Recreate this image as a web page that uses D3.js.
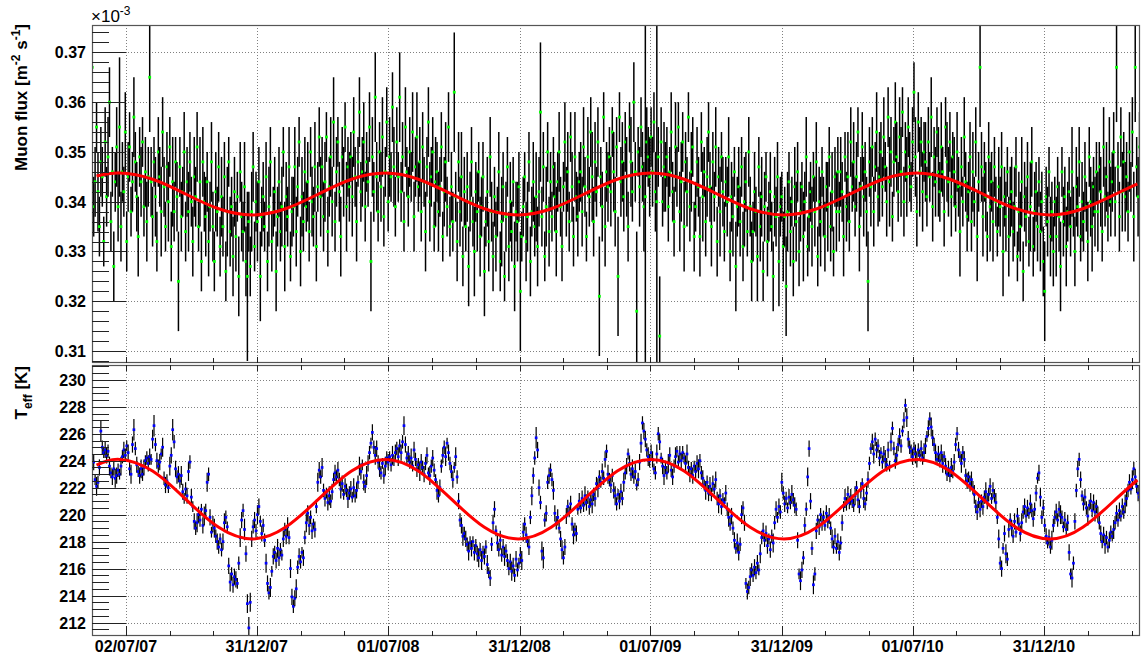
<!DOCTYPE html>
<html><head><meta charset="utf-8">
<script src="https://cdn.jsdelivr.net/npm/d3@7"></script>
<style>body{margin:0;background:#fff}text{font-family:"Liberation Sans",Arial,Helvetica,sans-serif}</style>
</head><body><svg id="c" width="1144" height="660"></svg>
<script>
// ---------- data ----------
const startDay = "2007-05-16";
const dayStep = 2;
// muon flux, units 1e-6 m^-2 s^-1 (axis shows x10^-3)
const muonFlux = [
367,339,344,355,342,335,348,345,332,352, 341,349,360,336,346,327,344,351,339,355,
335,346,342,354,332,345,351,338,344,357, 348,341,333,349,344,352,339,346,336,345,
365,344,337,348,341,332,350,345,338,354, 343,335,347,340,351,331,344,338,348,341,
324,347,337,342,350,334,344,338,348,340, 332,345,341,351,335,344,328,348,340,337,
344,332,339,348,335,328,342,338,347,331, 341,335,345,326,338,348,334,339,329,342,
333,341,325,346,337,334,343,328,325,336, 327,338,347,331,340,336,344,325,337,341,
335,345,328,339,348,332,338,342,326,337, 344,334,339,350,331,341,337,347,329,338,
339,347,334,343,352,330,341,336,346,339, 344,334,350,340,337,347,331,343,353,341,
347,337,344,353,334,343,349,340,356,336, 346,352,342,333,349,344,355,339,347,343,
349,341,354,345,336,348,358,342,346,352, 339,348,344,355,328,349,342,361,345,338,
350,343,353,337,346,356,340,349,345,359, 347,339,352,345,361,342,349,336,355,346,
341,350,345,354,337,347,353,343,348,338, 351,344,334,347,356,340,345,350,335,344,
346,338,343,351,333,342,348,339,355,335, 343,336,362,341,332,348,338,345,329,342,
335,343,327,340,348,336,330,342,338,346, 333,339,345,326,336,342,332,349,338,329,
341,333,338,346,328,336,343,325,337,347, 331,340,334,344,327,338,336,343,322,333,
339,345,332,337,348,328,338,344,335,341, 331,342,358,337,347,329,339,350,334,344,
337,347,341,334,344,350,339,331,343,352, 340,346,336,353,343,333,349,341,337,344,
346,338,351,343,333,349,341,354,345,336, 348,342,352,321,345,339,357,335,346,343,
349,342,354,346,338,351,325,357,344,348, 341,352,345,335,355,348,342,360,346,318,
350,343,355,347,339,341,352,349,345,353, 346,356,342,340,349,313,352,340,347,345,
349,339,346,354,342,336,351,345,355,338, 344,352,335,348,342,357,339,346,351,333,
339,348,343,333,352,341,346,336,345,354, 343,335,348,341,351,332,345,338,349,342,
334,344,340,349,330,341,337,346,327,339, 343,336,347,331,340,344,334,350,339,328,
334,342,338,329,347,335,341,326,339,345, 332,338,342,335,325,341,337,345,328,339,
341,331,337,323,338,344,334,340,328,343, 336,346,330,338,343,333,340,349,331,337,
342,335,345,338,348,329,340,336,346,339, 333,343,339,349,335,342,330,345,338,346,
338,346,342,333,349,339,345,336,352,343, 348,339,345,354,335,343,351,341,346,338,
324,348,343,351,338,347,354,341,345,350, 343,353,347,340,357,344,350,337,348,356,
349,342,353,346,358,340,350,345,355,347, 343,352,362,349,338,356,346,352,342,350,
348,341,352,345,357,339,349,344,354,346, 342,351,346,338,355,348,344,352,341,349,
346,339,350,343,334,347,340,353,344,337, 342,349,336,346,340,352,333,344,367,347,
337,346,341,333,349,339,344,336,347,340, 334,343,339,347,330,341,337,346,333,340,
342,334,339,347,329,338,335,344,326,341, 337,345,332,339,348,331,338,342,335,344,
334,340,328,322,341,336,346,333,338,330, 340,333,343,337,327,346,336,341,331,338,
342,335,346,338,330,343,339,348,333,340, 336,345,339,332,349,340,335,343,338,346,
338,347,342,334,351,341,345,337,348,340, 344,350,340,367,347,337,353,342,348,341,
345,338,350,343,354,337,367,347,341,351];
const muonErr = [
9,6,7,5,8,6,7,6,5,7, 6,8,7,6,5,7,6,8,7,14, 7,6,5,8,6,7,7,5,6,8, 6,7,8,6,7,5,6,7,8,6,
11,7,6,5,8,6,7,6,9,7, 6,5,7,8,6,7,9,6,5,7, 10,6,7,5,8,6,7,8,6,5, 7,8,6,7,5,9,6,7,6,8,
6,7,5,8,7,6,8,5,7,6, 8,6,7,6,9,5,7,6,8,7, 7,5,8,6,7,6,9,7,17,6, 6,8,7,5,6,8,7,9,6,7,
5,7,6,8,7,6,5,7,8,6, 7,6,8,5,9,7,6,8,5,7, 6,8,7,6,5,7,8,6,7,5, 8,6,5,7,6,9,7,5,6,8,
6,7,8,5,7,6,8,7,9,6, 7,5,6,8,6,7,5,9,6,7, 5,8,7,6,8,5,7,6,7,8, 7,6,5,7,10,8,6,9,7,6,
6,7,8,6,5,7,6,8,5,7, 8,6,7,5,9,6,7,6,8,5, 6,7,5,8,7,6,9,5,7,6, 7,5,8,6,7,8,6,7,5,9,
6,8,6,7,5,7,8,6,7,6, 7,6,12,5,8,6,7,9,6,7, 5,7,8,6,7,5,9,6,8,6, 8,6,7,9,5,7,6,8,6,7,
6,7,5,8,6,9,7,5,7,6, 7,8,6,5,9,6,8,7,12,5, 6,5,8,7,6,7,5,8,6,9, 8,7,14,6,7,5,8,6,7,6,
5,6,7,9,6,8,6,7,5,8, 7,8,6,5,7,6,9,5,8,6, 6,7,8,6,5,8,6,7,9,7, 8,5,7,12,6,7,5,8,6,7,
6,7,5,8,7,6,12,5,7,8, 7,6,8,7,5,9,6,8,6,16, 5,8,6,7,9,36,7,6,8,6, 7,6,8,36,6,12,7,5,9,7,
6,7,5,8,6,7,9,6,5,8, 8,6,9,6,7,5,7,8,6,7, 5,7,6,8,6,9,5,7,8,6, 7,8,6,5,8,7,6,9,5,7,
6,5,7,8,6,7,8,5,9,6, 8,7,6,7,9,6,5,7,6,8, 6,8,5,9,6,7,8,6,7,5, 7,6,8,5,7,8,6,7,9,6,
5,7,6,10,8,6,7,5,7,8, 8,6,7,6,5,9,6,8,6,7, 6,8,5,7,8,6,7,9,5,6, 7,5,9,6,7,8,5,6,8,7,
6,7,6,8,5,7,9,6,7,5, 8,6,7,5,9,6,7,8,6,7, 10,7,8,6,7,5,8,6,9,6, 6,8,5,7,6,9,7,5,7,8,
7,6,8,9,5,7,6,8,6,7, 5,7,6,8,7,6,9,5,8,6, 8,6,7,5,8,7,6,7,5,9, 6,9,5,7,6,8,7,6,8,5,
7,5,8,6,9,6,5,8,6,7, 6,7,6,8,5,7,9,6,12,7, 8,6,7,5,7,9,6,8,6,5, 5,8,6,7,9,6,7,5,8,7,
7,6,8,6,5,8,7,9,6,7, 6,7,5,9,7,6,8,6,7,5, 8,6,7,10,6,7,5,8,6,7, 5,8,6,7,9,5,7,6,8,6,
7,6,9,5,7,8,6,7,5,8, 6,7,5,8,6,7,9,6,7,6, 8,5,7,6,8,6,7,5,9,7, 6,8,7,11,5,7,6,8,6,7,
7,6,8,5,7,9,11,6,8,7];
// effective temperature, K
const teff = [
224.2,223.9,222.6,222.1,222.4,223.5,226.2,225.0,224.6,224.8, 224.4,224.7,223.6,223.1,222.8,223.4,222.7,222.9,223.3,223.0,
223.6,224.3,224.8,224.4,225.1,224.6,223.4,223.0,225.2,226.3, 224.9,223.7,223.2,222.9,223.4,223.0,223.5,224.0,224.2,223.8,
224.3,224.1,225.6,226.6,225.2,224.0,223.6,223.9,224.5,225.0, 222.7,222.2,222.5,222.0,223.6,224.4,226.3,225.4,223.4,222.8,
223.0,222.5,222.9,221.7,221.2,221.9,221.4,223.2,223.9,221.3, 220.6,219.5,219.0,219.4,220.0,219.6,220.4,219.2,219.9,220.3,
222.4,223.0,219.8,218.7,219.3,219.0,218.4,218.0,217.6,218.2, 217.4,218.0,219.4,219.8,219.1,216.2,215.0,215.6,214.8,215.4,
215.2,214.9,216.4,218.3,219.6,220.3,218.9,217.1,213.4,211.6, 213.5,218.2,219.1,219.6,218.8,220.0,220.6,219.5,218.6,219.2,
218.1,216.4,214.9,214.2,214.6,215.8,216.9,217.2,216.6,217.5, 216.8,217.4,217.0,218.2,218.9,218.4,219.1,218.3,216.0,213.9,
213.2,213.8,214.5,216.1,216.9,216.5,217.2,216.8,218.3,219.4, 220.1,219.2,219.8,218.8,219.3,218.9,220.6,222.4,223.3,222.8,
223.5,221.8,221.2,221.6,220.9,221.4,221.0,221.7,222.6,223.1, 222.8,223.3,222.6,221.9,222.3,221.5,222.1,221.8,221.2,221.6,
221.9,221.3,222.0,221.4,221.8,222.4,223.6,223.2,223.7,222.4, 222.1,222.9,223.8,224.6,225.3,226.1,225.0,224.4,224.9,223.9,
223.4,223.1,223.8,222.9,223.6,224.2,223.9,224.3,223.7,224.4, 224.0,224.6,224.9,224.3,225.1,224.6,225.4,226.6,225.2,224.2,
224.5,223.9,224.2,223.6,224.8,224.1,223.4,223.7,223.2,223.9, 223.5,223.0,223.8,224.4,223.1,222.9,223.6,224.2,223.3,222.6,
221.8,221.4,222.0,223.6,224.4,225.0,224.3,225.3,224.6,223.8, 223.2,222.6,223.5,224.3,222.8,221.0,219.6,219.2,218.4,218.6,
218.2,217.8,217.3,217.9,217.5,218.0,217.2,217.7,217.1,216.8, 217.4,216.6,217.2,216.9,217.6,216.3,215.7,215.3,217.8,219.4,
220.4,218.8,217.9,217.4,218.1,217.0,217.6,216.9,217.3,216.6, 216.0,216.5,215.8,216.2,215.5,216.7,215.9,216.4,217.0,216.6,
218.7,219.3,218.5,218.0,217.6,219.8,221.4,222.9,224.2,225.7, 224.8,222.0,220.9,217.3,216.8,219.6,220.1,222.4,222.9,223.3,
222.6,221.8,220.1,219.4,219.8,219.0,218.2,217.4,216.8,217.6, 219.9,220.6,220.2,220.8,219.3,218.5,218.9,218.6,220.4,221.0,
220.5,221.2,220.7,221.4,220.9,221.3,220.6,221.1,220.8,221.5, 221.2,222.3,222.0,222.8,222.4,223.2,222.7,224.1,224.7,223.0,
222.6,222.2,222.9,221.8,221.4,220.8,221.5,221.0,221.7,221.2, 222.4,223.1,223.6,224.5,223.8,223.0,223.4,222.8,223.2,222.2,
222.6,223.9,225.3,226.8,226.2,225.6,224.8,224.3,224.0,224.6, 224.1,223.4,223.1,224.5,226.0,225.4,224.2,223.6,222.9,223.5,
223.1,223.8,224.4,223.3,222.8,223.6,224.3,224.7,223.9,224.5, 224.0,224.6,224.2,223.8,224.5,223.5,223.0,223.4,222.9,223.6,
223.2,223.8,223.4,224.0,223.1,222.7,222.2,221.8,222.4,221.6, 222.1,221.5,222.3,221.9,222.6,221.2,220.8,221.4,220.6,221.1,
220.9,221.6,220.4,219.8,219.3,219.9,219.0,218.1,217.5,217.9, 217.2,217.8,220.0,220.5,219.4,214.9,214.3,214.6,215.4,215.9,
215.5,216.1,215.7,216.4,215.9,217.1,218.3,218.8,218.1,218.6, 217.7,218.2,217.4,218.4,217.9,219.4,220.4,219.8,220.6,220.2,
222.4,221.6,220.8,221.2,220.5,221.3,220.9,221.5,221.1,220.7, 220.4,218.1,215.6,215.1,215.9,216.8,219.2,220.4,222.8,224.9,
221.0,217.5,214.8,215.6,218.8,219.6,219.1,220.0,219.4,219.8, 219.2,220.1,219.5,219.9,219.0,218.2,217.6,218.4,217.5,218.0,
217.2,217.9,219.4,220.6,221.2,220.8,221.5,220.9,221.3,221.0, 220.7,221.4,222.0,221.1,220.6,221.8,222.3,221.2,220.8,221.6,
222.6,223.8,224.9,225.4,224.5,225.6,224.8,225.1,224.2,224.6, 223.9,224.5,224.1,223.7,224.8,223.6,225.4,226.4,224.9,224.0,
224.4,225.2,225.8,225.1,226.2,227.0,228.1,227.2,225.6,225.0, 224.7,224.3,224.9,224.5,224.1,224.8,224.4,224.9,224.2,224.6,
225.1,225.8,226.4,227.1,226.5,225.7,225.2,224.6,224.1,224.5, 224.0,224.6,223.8,224.3,223.6,223.0,223.4,222.9,223.5,223.2,
223.9,225.2,226.0,224.8,224.3,223.8,224.6,224.1,222.9,222.5, 222.8,222.3,222.6,222.0,221.5,220.6,220.2,220.9,220.4,221.0,
220.6,221.3,221.7,221.0,221.5,222.1,221.2,221.8,221.4,220.9, 219.8,218.2,216.4,216.0,217.5,218.6,217.1,216.7,218.9,219.6,
219.0,218.4,219.5,218.7,219.9,219.3,218.6,219.4,220.2,220.6, 219.9,220.5,220.1,220.8,220.3,219.7,220.4,221.6,222.7,223.1,
221.3,219.8,220.5,219.2,218.4,217.9,218.3,217.6,218.1,219.2, 219.8,220.2,219.6,220.4,220.0,219.8,219.1,219.6,218.9,219.4,
217.2,215.6,215.3,216.4,219.5,221.8,223.4,224.1,222.6,221.4, 220.8,221.3,220.5,219.9,220.7,221.0,220.3,220.9,220.2,220.6,
220.0,219.4,218.6,218.0,218.5,217.8,218.3,217.6,218.1,218.7, 218.4,218.9,219.4,220.1,219.6,220.3,219.9,220.6,220.2,220.8,
221.2,221.8,222.4,221.9,222.6,223.4,222.8,222.1,221.6,221.3];
// T_eff errors, units 0.1 K
const teffErr = [
5,6,4,7,5,6,8,5,4,6, 6,5,7,4,6,5,7,6,5,4, 7,5,6,5,4,6,5,7,6,8, 5,6,4,6,7,5,6,4,5,6,
6,4,7,8,5,6,5,6,4,7, 5,6,5,4,7,6,8,5,6,5, 6,5,7,6,4,5,6,7,5,6, 4,6,5,7,6,5,4,6,7,5,
7,5,6,4,6,7,5,6,5,4, 5,6,7,5,4,6,7,5,6,6, 6,4,5,7,6,5,8,6,7,8, 7,6,5,6,5,7,6,4,6,5,
5,7,6,5,7,4,6,5,6,7, 6,5,4,6,5,6,7,5,7,6, 5,6,7,5,6,5,4,6,5,7, 6,7,5,6,4,6,5,7,6,5,
7,5,6,4,6,7,5,6,5,6, 5,6,5,7,6,4,6,5,7,5, 6,4,7,5,6,5,7,6,4,6, 5,7,6,5,4,6,5,7,6,5,
6,5,4,6,7,5,6,4,5,7, 4,6,5,7,5,6,5,7,6,5, 6,5,7,4,6,5,6,5,7,6, 5,6,5,6,4,7,5,6,5,4,
7,5,6,5,6,5,7,4,6,5, 5,6,4,7,5,6,5,6,7,5, 6,5,7,5,6,4,6,5,6,7, 5,7,5,6,5,7,4,6,5,6,
6,4,6,5,7,5,6,7,5,5, 5,6,7,6,5,6,5,4,6,7, 7,5,6,4,6,5,7,6,5,8, 6,6,5,7,8,5,6,5,6,5,
5,7,6,5,6,4,6,7,5,6, 6,5,4,6,5,7,5,6,4,6, 4,6,5,7,6,5,6,5,7,5, 6,5,7,5,4,6,5,6,5,7,
5,6,5,6,7,5,4,6,6,5, 7,5,6,4,6,5,7,5,6,4, 5,6,7,5,6,6,5,7,5,6, 6,4,5,7,5,6,4,6,7,5,
5,7,6,5,6,5,7,4,5,6, 6,5,4,6,7,5,6,5,6,4, 5,6,7,5,5,6,4,7,5,6, 7,5,6,4,6,5,7,5,6,5,
4,6,5,7,5,6,5,6,4,7, 6,5,7,5,6,4,6,5,7,5, 5,6,5,6,4,7,5,6,5,6, 6,4,6,5,7,5,6,4,6,5,
7,5,6,5,4,6,5,7,5,6, 5,6,4,7,6,5,6,5,7,6, 6,5,7,5,6,4,6,5,6,5, 4,6,5,6,5,7,5,6,4,6,
6,5,6,4,7,5,6,5,6,5, 5,7,5,6,5,6,4,7,5,6, 6,5,4,6,7,5,6,5,6,4, 5,6,7,5,6,4,7,5,5,6,
7,5,6,5,4,6,5,7,6,5, 5,6,5,7,6,5,4,6,5,7, 6,4,6,5,7,6,5,6,4,6, 5,6,7,4,6,5,6,5,7,5,
6,5,5,6,4,7,5,6,5,6, 4,6,6,5,7,5,6,4,6,5, 6,5,7,6,5,6,4,6,5,7, 5,7,5,6,4,6,7,5,6,5,
6,5,6,4,6,5,6,7,5,6, 5,6,4,7,5,6,5,6,4,6, 7,5,6,5,6,4,6,5,7,5, 5,6,5,6,7,5,4,6,5,6,
6,4,7,5,6,5,6,5,6,4, 5,6,5,7,4,6,5,6,7,5, 6,5,6,5,6,7,5,4,6,5, 4,7,5,6,5,6,4,6,5,7,
6,5,6,4,7,5,6,5,6,5];
// sinusoidal fits as drawn (day offset from startDay, value)
const fitDay  = [6,38,84,130,176,223,269,315,361,408,454,500,546,593,639,685,731,778,824,870,916,963,1009,1055,1101,1148,1194,1240,1286,1333,1379,1425,1455];
const fitFlux = [345.15,345.75,344.52,341.55,338.58,337.35,338.58,341.55,344.52,345.75,344.52,341.55,338.58,337.35,338.58,341.55,344.52,345.75,344.52,341.55,338.58,337.35,338.58,341.55,344.52,345.75,344.52,341.55,338.58,337.35,338.58,341.55,343.6];
const fitTeff = [223.68,224.1,223.24,221.15,219.06,218.2,219.06,221.15,223.24,224.1,223.24,221.15,219.06,218.2,219.06,221.15,223.24,224.1,223.24,221.15,219.06,218.2,219.06,221.15,223.24,224.1,223.24,221.15,219.06,218.2,219.06,221.15,222.57];
// axes
const xTickDates  = ["2007-07-02","2007-12-31","2008-07-01","2008-12-31","2009-07-01","2009-12-31","2010-07-01","2010-12-31"];
const xTickLabels = ["02/07/07","31/12/07","01/07/08","31/12/08","01/07/09","31/12/09","01/07/10","31/12/10"];
const fluxTicks = [310,320,330,340,350,360,370];
const fluxTickLabels = ["0.31","0.32","0.33","0.34","0.35","0.36","0.37"];
const teffTicks = [212,214,216,218,220,222,224,226,228,230];

// ---------- layout ----------
const L = 92, R = 1140;
const P1 = {top:25, bot:363}, P2 = {top:365, bot:636};
const svg = d3.select("#c");
const parse = d3.utcParse("%Y-%m-%d");
const t0 = parse(startDay);
const dateAt = d => d3.utcDay.offset(t0, d);
const x = d3.scaleUtc()
  .domain([new Date(Date.UTC(2007,4,15,16)), new Date(Date.UTC(2011,4,13,15,36))])
  .range([L, R]);
const yF = d3.scaleLinear().domain([307.6, 375.5]).range([P1.bot, P1.top]);
const yT = d3.scaleLinear().domain([211.0, 231.1]).range([P2.bot, P2.top]);

const xMajor = xTickDates.map(parse);
const xMinor = [];
for (let i = 0; i < xMajor.length; i++) {
  const a = xMajor[i], b = i+1 < xMajor.length ? xMajor[i+1] : d3.utcDay.offset(a, 183);
  const span = b - a;
  xMinor.push(new Date(+a + span/3), new Date(+a + 2*span/3));
}

const defs = svg.append("defs");
[["c1",P1],["c2",P2]].forEach(([id,p]) => {
  defs.append("clipPath").attr("id", id).append("rect")
    .attr("x", L).attr("y", p.top).attr("width", R-L).attr("height", p.bot-p.top);
});

function grid(p, yScale, yTicks) {
  const g = svg.append("g").attr("stroke", "#808080").attr("stroke-dasharray", "1,2").attr("stroke-width", 1);
  g.selectAll(".h").data(yTicks).join("line")
    .attr("x1", L).attr("x2", R).attr("y1", d => Math.round(yScale(d))+0.5).attr("y2", d => Math.round(yScale(d))+0.5);
  g.selectAll(".v").data(xMajor).join("line")
    .attr("x1", d => Math.round(x(d))+0.5).attr("x2", d => Math.round(x(d))+0.5).attr("y1", p.top).attr("y2", p.bot);
}
grid(P1, yF, fluxTicks);
grid(P2, yT, teffTicks);

// ---------- top panel data ----------
const fluxPts = muonFlux.map((v,i) => ({t: dateAt(i*dayStep), v, e: muonErr[i]}));
const g1 = svg.append("g").attr("clip-path", "url(#c1)");
const pg1 = g1.selectAll("g").data(fluxPts).join("g");
pg1.append("line")
  .attr("x1", d => x(d.t)).attr("x2", d => x(d.t))
  .attr("y1", d => yF(d.v - d.e)).attr("y2", d => yF(d.v + d.e))
  .attr("stroke", "#000").attr("stroke-width", 1.5);
pg1.append("rect")
  .attr("x", d => x(d.t)-1.4).attr("y", d => yF(d.v)-1.4)
  .attr("width", 2.8).attr("height", 2.8).attr("fill", "#00ff00");
g1.append("path")
  .datum(fitDay.map((d,i) => [dateAt(d), fitFlux[i]]))
  .attr("fill", "none").attr("stroke", "#ff0000").attr("stroke-width", 3)
  .attr("d", d3.line().x(d => x(d[0])).y(d => yF(d[1])).curve(d3.curveNatural));

// ---------- bottom panel data ----------
const teffPts = teff.map((v,i) => ({t: dateAt(i*dayStep), v, e: teffErr[i]/10}));
const g2 = svg.append("g").attr("clip-path", "url(#c2)");
const pg2 = g2.selectAll("g").data(teffPts).join("g");
pg2.append("line")
  .attr("x1", d => x(d.t)).attr("x2", d => x(d.t))
  .attr("y1", d => yT(d.v - d.e)).attr("y2", d => yT(d.v + d.e))
  .attr("stroke", "#000").attr("stroke-width", 1.2);
pg2.append("rect")
  .attr("x", d => x(d.t)-1.35).attr("y", d => yT(d.v)-1.35)
  .attr("width", 2.7).attr("height", 2.7).attr("fill", "#0000ff");
g2.append("path")
  .datum(fitDay.map((d,i) => [dateAt(d), fitTeff[i]]))
  .attr("fill", "none").attr("stroke", "#ff0000").attr("stroke-width", 3)
  .attr("d", d3.line().x(d => x(d[0])).y(d => yT(d[1])).curve(d3.curveNatural));

// ---------- frames & ticks ----------
function frame(p) {
  svg.append("rect").attr("x", L+0.5).attr("y", p.top+0.5).attr("width", R-L-1).attr("height", p.bot-p.top-1)
    .attr("fill", "none").attr("stroke", "#555").attr("stroke-width", 1.2);
}
frame(P1); frame(P2);

const tk = svg.append("g").attr("stroke", "#222").attr("stroke-width", 1);
function yTicksDraw(yScale, majors, minorStep, lo, hi) {
  majors.forEach(v => tk.append("line").attr("x1", L).attr("x2", L+34).attr("y1", Math.round(yScale(v))+0.5).attr("y2", Math.round(yScale(v))+0.5));
  const minors = d3.range(lo, hi + 1e-9, minorStep).filter(v => !majors.some(m => Math.abs(m-v) < 1e-6));
  minors.forEach(v => tk.append("line").attr("x1", L).attr("x2", L+17).attr("y1", Math.round(yScale(v))+0.5).attr("y2", Math.round(yScale(v))+0.5));
}
yTicksDraw(yF, fluxTicks, 2, 308, 374);
yTicksDraw(yT, teffTicks, 0.5, 211.5, 231);

function xTicksDraw(yBase, majLen, minLen, dir) {
  xMajor.forEach(d => tk.append("line").attr("x1", Math.round(x(d))+0.5).attr("x2", Math.round(x(d))+0.5).attr("y1", yBase).attr("y2", yBase + dir*majLen));
  xMinor.forEach(d => tk.append("line").attr("x1", Math.round(x(d))+0.5).attr("x2", Math.round(x(d))+0.5).attr("y1", yBase).attr("y2", yBase + dir*minLen));
}
xTicksDraw(P2.bot, 10, 5, -1);
xTicksDraw(P1.bot, 6, 5, -1);
xTicksDraw(P2.top, 6, 5, 1);

// ---------- labels ----------
const lab = svg.append("g").attr("font-weight", "bold").attr("font-size", 16).attr("fill", "#000");
fluxTicks.forEach((v,i) => lab.append("text").attr("x", 86).attr("y", yF(v)+6).attr("text-anchor", "end").text(fluxTickLabels[i]));
teffTicks.forEach(v => lab.append("text").attr("x", 86).attr("y", yT(v)+6).attr("text-anchor", "end").text(v));
xMajor.forEach((d,i) => lab.append("text").attr("x", x(d)).attr("y", 652).attr("text-anchor", "middle").text(xTickLabels[i]));

// exponent
const ex = svg.append("text").attr("x", 91).attr("y", 22).attr("font-size", 17).attr("fill", "#000");
ex.append("tspan").text("\u00d710");
ex.append("tspan").attr("font-size", 12).attr("dy", -7).text("-3");

// axis titles
const t1 = svg.append("text").attr("transform", "translate(27,24) rotate(-90)").attr("text-anchor", "end")
  .attr("font-weight", "bold").attr("font-size", 17);
t1.append("tspan").text("Muon flux [m");
t1.append("tspan").attr("font-size", 12).attr("dy", -7).text("-2");
t1.append("tspan").attr("dy", 7).text(" s");
t1.append("tspan").attr("font-size", 12).attr("dy", -7).text("-1");
t1.append("tspan").attr("dy", 7).text("]");

const t2 = svg.append("text").attr("transform", "translate(27,366) rotate(-90)").attr("text-anchor", "end")
  .attr("font-weight", "bold").attr("font-size", 17);
t2.append("tspan").text("T");
t2.append("tspan").attr("font-size", 12).attr("dy", 5).text("eff");
t2.append("tspan").attr("dy", -5).text(" [K]");
</script></body></html>
